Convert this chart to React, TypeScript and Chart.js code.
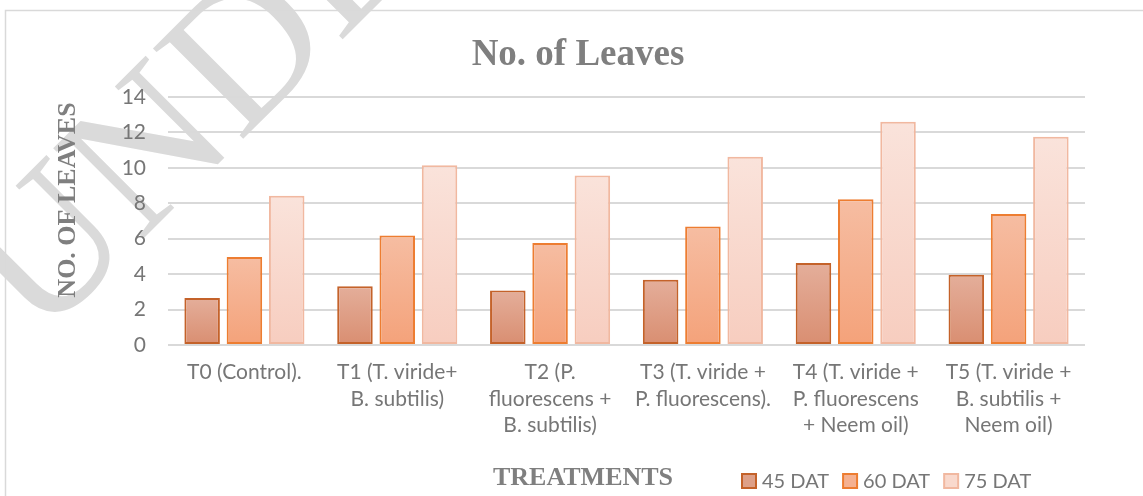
import React, { useEffect, useRef } from 'react';
import { Chart, registerables } from 'chart.js';

Chart.register(...registerables);

// ---------- data ----------
const categories: string[][] = [
  ['T0 (Control).'],
  ['T1 (T. viride+', 'B. subtilis)'],
  ['T2 (P.', 'fluorescens +', 'B. subtilis)'],
  ['T3 (T. viride +', 'P. fluorescens).'],
  ['T4 (T. viride +', 'P. fluorescens', '+ Neem oil)'],
  ['T5 (T. viride +', 'B. subtilis +', 'Neem oil)'],
];
const seriesNames = ['45 DAT', '60 DAT', '75 DAT'];
const dat45 = [2.65, 3.31, 3.08, 3.69, 4.63, 3.97];
const dat60 = [4.97, 6.18, 5.76, 6.69, 8.23, 7.4];
const dat75 = [8.42, 10.15, 9.57, 10.62, 12.6, 11.75];
const yMin = 0;
const yMax = 14;
const yStep = 2;
const chartTitle = 'No. of Leaves';
const yTitle = 'NO. OF LEAVES';
const xTitle = 'TREATMENTS';
const watermark = 'UNDER REVIEW';

// ---------- styles ----------
const fillTop = ['#e4ae9a', '#f6bda2', '#fae3db'];
const fillBottom = ['#d98e71', '#f4a27a', '#f7cdbf'];
const borderCols = ['#c4622a', '#ed7d31', '#f1b8a0'];
const legendFill = ['#dea088', '#f5b191', '#f9d9cd'];
const grey = '#7f7f7f';
const tickGrey = '#767676';
const gridGrey = '#d9d9d9';

const gradient = (i: number) => (ctx: any) => {
  const chart = ctx.chart;
  if (!chart.chartArea || ctx.type !== 'data' || !chart.scales || !chart.scales.y) return legendFill[i];
  const y = chart.scales.y;
  const top = y.getPixelForValue(ctx.raw);
  const bot = y.getPixelForValue(0);
  if (!isFinite(top) || !isFinite(bot) || top === bot) return legendFill[i];
  const g = chart.ctx.createLinearGradient(0, top, 0, bot);
  g.addColorStop(0, fillTop[i]);
  g.addColorStop(1, fillBottom[i]);
  return g;
};

const decor = {
  id: 'decor',
  beforeDraw(chart: any) {
    const c = chart.ctx;
    c.save();
    c.fillStyle = '#ffffff';
    c.fillRect(0, 0, chart.width, chart.height);
    // watermark
    c.translate(40, 342);
    c.rotate(-Math.PI / 4);
    c.fillStyle = '#dadada';
    c.font = '195px "Liberation Serif"';
    c.textBaseline = 'alphabetic';
    c.textAlign = 'left';
    c.fillText(watermark, 0, 0);
    c.restore();
    // outer frame
    c.save();
    c.strokeStyle = gridGrey;
    c.lineWidth = 1.5;
    c.strokeRect(5.5, 10.5, chart.width + 20, chart.height + 20);
    c.restore();
  },
  afterDraw(chart: any) {
    const c = chart.ctx;
    c.save();
    // title
    c.fillStyle = grey;
    c.textAlign = 'center';
    c.textBaseline = 'alphabetic';
    c.font = 'bold 37px "Liberation Serif"';
    c.fillText(chartTitle, 578, 65);
    // x title
    c.font = 'bold 26px "Liberation Serif"';
    c.fillText(xTitle, 583, 485);
    // y title
    c.save();
    c.translate(75, 200);
    c.rotate(-Math.PI / 2);
    c.fillText(yTitle, 0, 0);
    c.restore();
    // legend
    c.font = '20px Lato';
    c.textAlign = 'left';
    let x = 742;
    const boxY = 474;
    for (let i = 0; i < seriesNames.length; i++) {
      c.fillStyle = legendFill[i];
      c.fillRect(x, boxY, 14, 14);
      c.strokeStyle = borderCols[i];
      c.lineWidth = 2;
      c.strokeRect(x, boxY, 14, 14);
      c.fillStyle = tickGrey;
      c.fillText(seriesNames[i], x + 20, 488);
      x += 20 + c.measureText(seriesNames[i]).width + 14;
    }
    c.restore();
  },
};

export default function App() {
  const ref = useRef<HTMLCanvasElement | null>(null);
  useEffect(() => {
    if (!ref.current) return;
    const series = [dat45, dat60, dat75];
    const chart = new Chart(ref.current, {
      type: 'bar',
      data: {
        labels: categories,
        datasets: series.map((d, i) => ({
          label: seriesNames[i],
          data: d,
          backgroundColor: gradient(i),
          borderColor: borderCols[i],
          borderWidth: 2,
          borderSkipped: false,
          barPercentage: 0.84,
          categoryPercentage: 0.83,
        })),
      },
      options: {
        responsive: false,
        animation: false,
        layout: { padding: { left: 0, right: 58, top: 97, bottom: 0 } },
        plugins: {
          legend: { display: false },
          title: { display: false },
          tooltip: { enabled: false },
        },
        scales: {
          x: {
            grid: { display: false },
            border: { display: false },
            ticks: {
              color: tickGrey,
              font: { family: 'Lato', size: 21, lineHeight: 1.27 },
              padding: 6,
              maxRotation: 0,
              minRotation: 0,
              autoSkip: false,
            },
            afterFit: (axis: any) => {
              axis.height = 151;
            },
          },
          y: {
            min: yMin,
            max: yMax,
            grid: { color: gridGrey, lineWidth: 2, drawTicks: false },
            border: { display: false },
            ticks: {
              stepSize: yStep,
              color: tickGrey,
              font: { family: 'Lato', size: 21 },
              padding: 22,
            },
            afterFit: (axis: any) => {
              axis.width = 168;
            },
          },
        },
      },
      plugins: [decor],
    } as any);
    return () => chart.destroy();
  }, []);
  return (
    <div style={{ position: 'absolute', left: 0, top: 0, width: 1143, height: 496 }}>
      <canvas ref={ref} width={1143} height={496} style={{ display: 'block' }} />
    </div>
  );
}
